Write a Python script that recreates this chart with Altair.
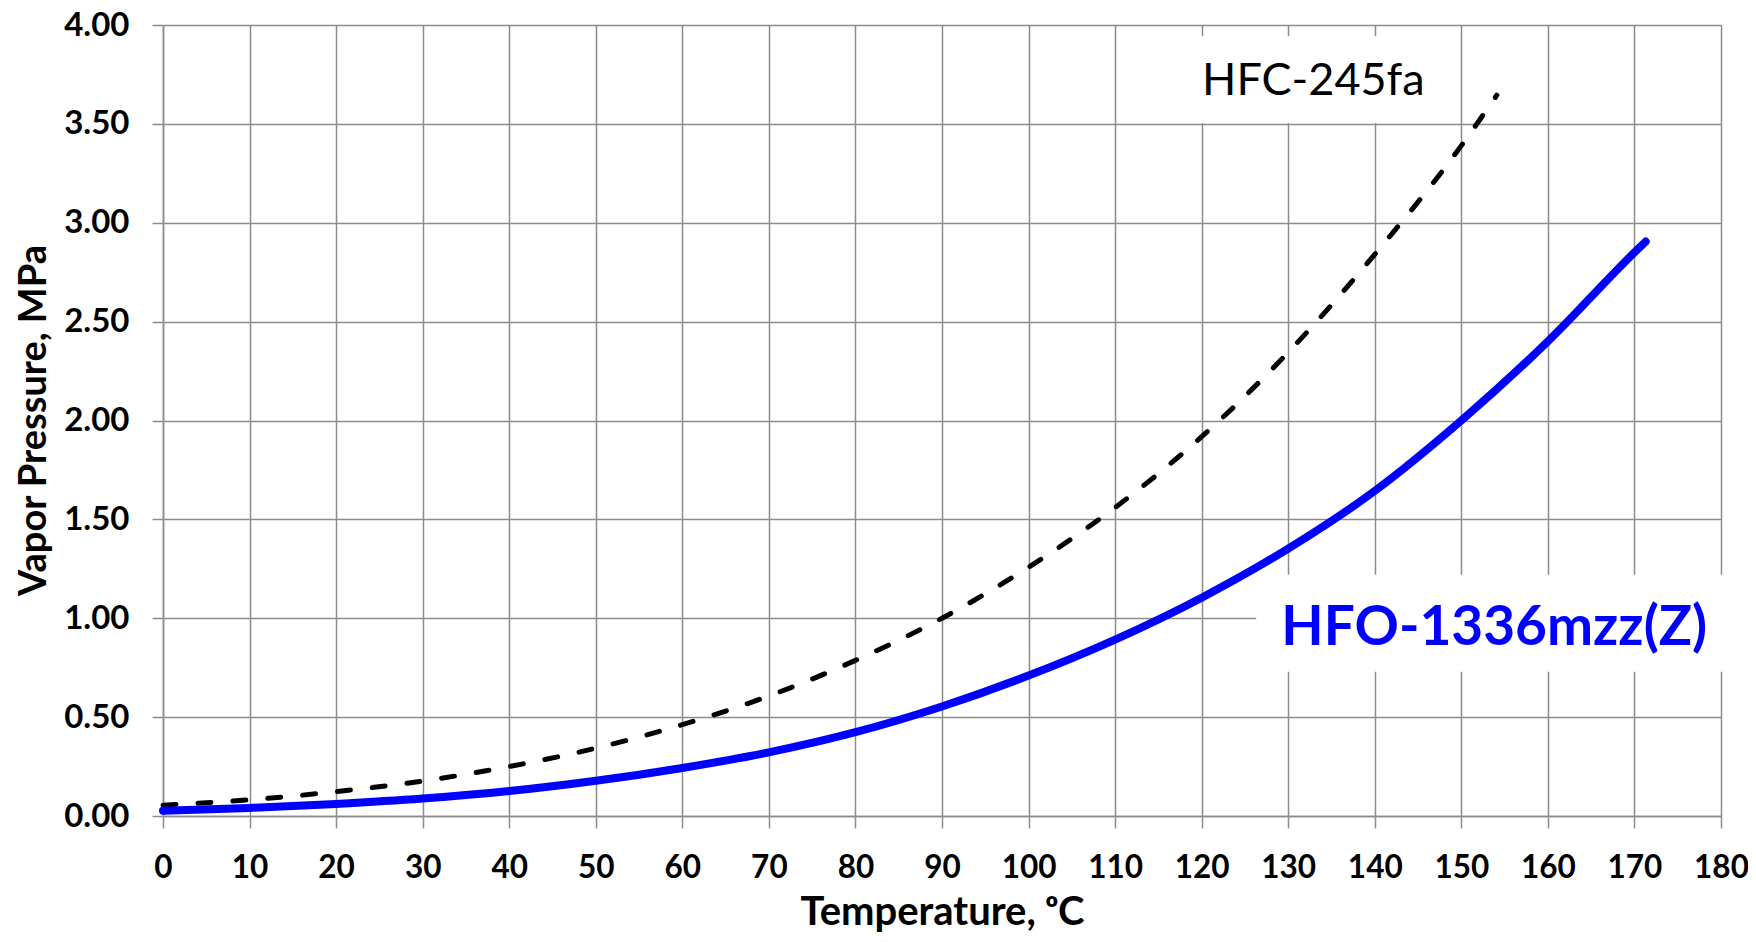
import altair as alt
import pandas as pd

# HFO-1336mzz(Z) vapor pressure curve (solid blue)
hfo_T = [0, 10, 20, 30, 40, 50, 60, 70, 80, 90, 100, 110, 120, 130, 140, 150, 160, 170, 171.3]
hfo_P = [0.027, 0.041, 0.061, 0.088, 0.126, 0.178, 0.243, 0.322, 0.424, 0.554, 0.71, 0.892,
         1.104, 1.352, 1.644, 2.0, 2.4, 2.85, 2.905]

# HFC-245fa vapor pressure curve (dashed black)
hfc_T = [0, 10, 20, 30, 40, 50, 60, 70, 80, 90, 100, 110, 120, 130, 140, 150, 154.1]
hfc_P = [0.055, 0.082, 0.123, 0.177, 0.25, 0.343, 0.462, 0.607, 0.787, 1.0, 1.258, 1.56,
         1.918, 2.345, 2.84, 3.39, 3.645]

x_ticks = list(range(0, 181, 10))
y_ticks = [0.0, 0.5, 1.0, 1.5, 2.0, 2.5, 3.0, 3.5, 4.0]

# annotation labels (data coordinates) and their white backing boxes
lab_text = ["HFC-245fa", "HFO-1336mzz(Z)"]
lab_T = [132.9, 153.8]
lab_P = [3.644, 0.865]
box_T1 = [119.0, 126.3]
box_T2 = [147.0, 180.5]
box_P1 = [3.505, 0.729]
box_P2 = [3.945, 1.22]

GRAY = "#8c8c8c"
FONT = "Lato"

hfo = pd.DataFrame({"T": hfo_T, "P": hfo_P})
hfc = pd.DataFrame({"T": hfc_T, "P": hfc_P})
boxes = pd.DataFrame({"T": box_T1, "T2": box_T2, "P": box_P1, "P2": box_P2})
lab1 = pd.DataFrame({"T": lab_T[:1], "P": lab_P[:1], "label": lab_text[:1]})
lab2 = pd.DataFrame({"T": lab_T[1:], "P": lab_P[1:], "label": lab_text[1:]})

xscale = alt.Scale(domain=[0, 180], nice=False, zero=False)
yscale = alt.Scale(domain=[0, 4], nice=False, zero=False)

x_axis = alt.Axis(
    values=x_ticks, format="d",
    labelFont=FONT, labelFontSize=31.5, labelFontWeight="bold", labelColor="black",
    labelBaseline="alphabetic", labelPadding=49, labelFlush=False, labelOverlap=False,
    tickSize=12, tickColor=GRAY, tickWidth=1.5,
    domainColor=GRAY, domainWidth=1.5,
    grid=True, gridColor=GRAY, gridWidth=1.5, gridOpacity=1,
    title="Temperature, ᵒC", titleFont=FONT, titleFontSize=40, titleFontWeight="bold",
    titleColor="black", titleX=779, titleY=108, titleBaseline="alphabetic", titleAlign="center",
)
y_axis = alt.Axis(
    values=y_ticks, format=".2f",
    labelFont=FONT, labelFontSize=33, labelFontWeight="bold", labelColor="black",
    labelBaseline="middle", labelPadding=23, labelFlush=False, labelOverlap=False,
    tickSize=11, tickColor=GRAY, tickWidth=1.5,
    domainColor=GRAY, domainWidth=1.5,
    grid=True, gridColor=GRAY, gridWidth=1.5, gridOpacity=1,
    title="Vapor Pressure, MPa", titleFont=FONT, titleFontSize=38, titleFontWeight="bold",
    titleColor="black", titleAngle=270, titleX=-118, titleY=395,
    titleBaseline="alphabetic", titleAlign="center",
)

X = alt.X("T:Q", scale=xscale, axis=x_axis)
Y = alt.Y("P:Q", scale=yscale, axis=y_axis)

box_layer = alt.Chart(boxes).mark_rect(color="white", opacity=1).encode(
    x=X, x2="T2:Q", y=Y, y2="P2:Q",
)

hfc_layer = alt.Chart(hfc).mark_line(
    color="black", strokeWidth=5, strokeDash=[13, 22], strokeCap="round",
    interpolate="monotone",
).encode(x=X, y=Y)

hfo_layer = alt.Chart(hfo).mark_line(
    color="#0000ff", strokeWidth=8, strokeCap="round", interpolate="monotone",
).encode(x=X, y=Y)

t1 = alt.Chart(lab1).mark_text(
    font=FONT, fontSize=45, fontWeight="normal", color="black",
    align="center", baseline="alphabetic",
).encode(x=X, y=Y, text="label:N")

t2 = alt.Chart(lab2).mark_text(
    font=FONT, fontSize=55, fontWeight="bold", color="#0000ff",
    align="center", baseline="alphabetic",
).encode(x=X, y=Y, text="label:N")

chart = alt.layer(box_layer, hfc_layer, hfo_layer, t1, t2).properties(
    width=1558, height=791,
    autosize=alt.AutoSizeParams(type="none"),
    padding={"left": 155, "top": 17, "right": 27, "bottom": 118},
).configure_view(stroke=None).configure(background="white")

chart.save("out.html", embed_options={"renderer": "svg", "actions": False})
